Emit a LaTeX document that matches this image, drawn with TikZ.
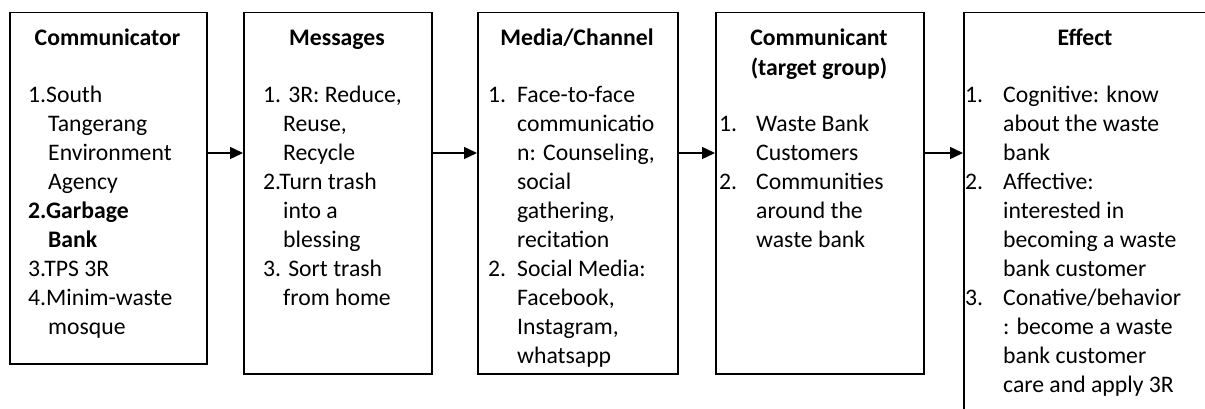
\documentclass[tikz,border=0pt]{standalone}
\usepackage{fontspec}
\setmainfont{Carlito}
\usetikzlibrary{arrows.meta}
\tikzset{
  x=1pt,y=1pt,
  box/.style={draw=black,line width=1.5pt,anchor=north west,inner sep=0pt,fill=none},
  ttl/.style={anchor=base,inner sep=0pt,align=center,font=\fontsize{23.7}{29}\selectfont\bfseries},
  txt/.style={anchor=base west,inner sep=0pt,align=left,font=\fontsize{23.7}{29}\selectfont},
  arr/.style={line width=1.5pt,-{Triangle[length=13pt,width=12pt]}}
}
\newcommand\nb[2]{\makebox[#1][l]{#2}}
\begin{document}
\begin{tikzpicture}
\useasboundingbox (0,0) rectangle (1205,408);
% boxes
\node[box,minimum width=197,minimum height=351] (b1) at (9,396) {};
\node[box,minimum width=188,minimum height=361] (b2) at (243,396) {};
\node[box,minimum width=200,minimum height=361] (b3) at (477,396) {};
\node[box,minimum width=208,minimum height=361] (b4) at (715,396) {};
\node[box,minimum width=300,minimum height=450] (b5) at (963,396) {};
% titles (base anchor = last line)
\node[ttl] (t1) at (107.5,362) {Communicator};
\node[ttl] (t2) at (337,362) {Messages};
\node[ttl] (t3) at (577,362) {Media/Channel};
\node[ttl] (t4) at (819,333) {Communicant\\(target group)};
\node[ttl] (t5) at (1085,362) {Effect};
% contents (base anchor = last line)
\node[txt] (c1) at (28,74) {1.South\\\hspace*{20pt}Tangerang\\\hspace*{20pt}Environment\\\hspace*{20pt}Agency\\\textbf{2.Garbage}\\\hspace*{20pt}\textbf{Bank}\\3.TPS 3R\\4.Minim-waste\\\hspace*{20pt}mosque};
\node[txt] (c2) at (263,103) {1. 3R: Reduce,\\\hspace*{20pt}Reuse,\\\hspace*{20pt}Recycle\\2.Turn trash\\\hspace*{20pt}into a\\\hspace*{20pt}blessing\\3. Sort trash\\\hspace*{20pt}from home};
\begin{scope}
\clip (b3.south west) rectangle (b3.north east);
\node[txt] (c3) at (488,45) {\nb{29pt}{1.}Face-to-face\\\hspace*{29pt}communicatio\\\hspace*{29pt}n: Counseling,\\\hspace*{29pt}social\\\hspace*{29pt}gathering,\\\hspace*{29pt}recitation\\\nb{29pt}{2.}Social Media:\\\hspace*{29pt}Facebook,\\\hspace*{29pt}Instagram,\\\hspace*{29pt}whatsapp};
\end{scope}
\node[txt] (c4) at (719,161) {\nb{37pt}{1.}Waste Bank\\\hspace*{37pt}Customers\\\nb{37pt}{2.}Communities\\\hspace*{37pt}around the\\\hspace*{37pt}waste bank};
\node[txt] (c5) at (965,16) {\nb{38pt}{1.}Cognitive: know\\\hspace*{38pt}about the waste\\\hspace*{38pt}bank\\\nb{38pt}{2.}Affective:\\\hspace*{38pt}interested in\\\hspace*{38pt}becoming a waste\\\hspace*{38pt}bank customer\\\nb{38pt}{3.}Conative/behavior\\\hspace*{38pt}: become a waste\\\hspace*{38pt}bank customer\\\hspace*{38pt}care and apply 3R};
% arrows
\coordinate (ay) at (0,255);
\draw[arr] (b1.east |- ay) -- (b2.west |- ay);
\draw[arr] (b2.east |- ay) -- (b3.west |- ay);
\draw[arr] (b3.east |- ay) -- (b4.west |- ay);
\draw[arr] (b4.east |- ay) -- (b5.west |- ay);
\end{tikzpicture}
\end{document}
